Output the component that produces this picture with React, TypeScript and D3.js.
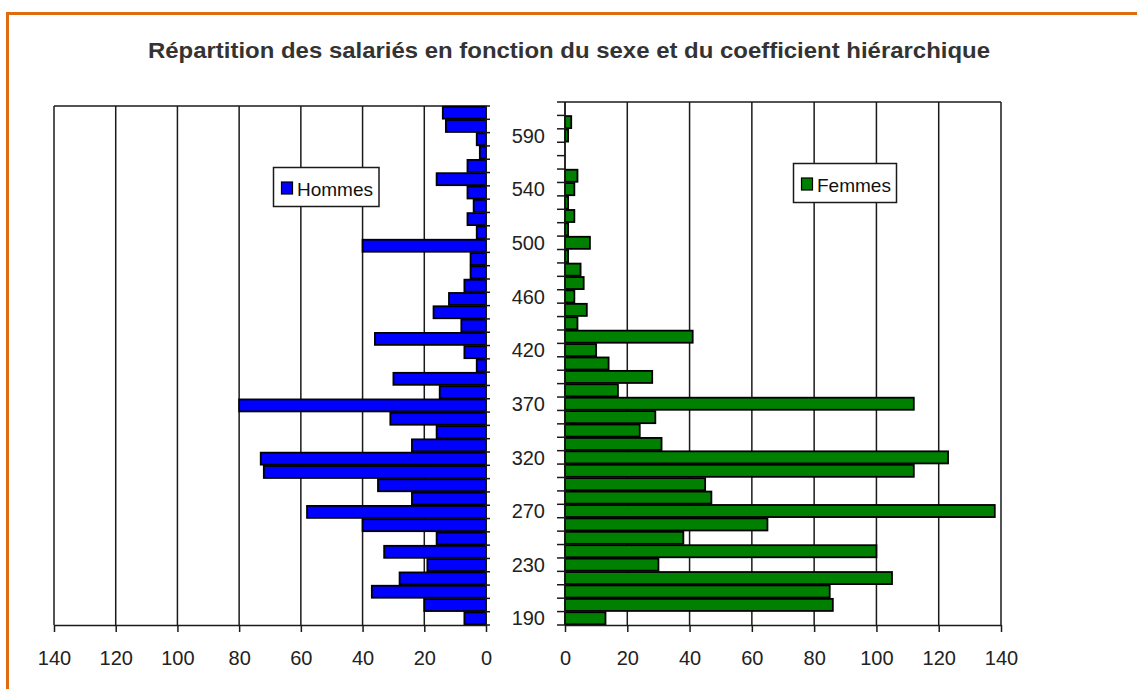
import React, { useEffect, useRef } from "react";
import * as d3 from "d3";

// coefficients hiérarchiques (du bas vers le haut)
const coefficients = [
  190, 200, 210, 220, 230, 240, 250, 260, 270, 280, 290, 305, 320, 330, 340, 355,
  370, 380, 390, 405, 420, 430, 440, 450, 460, 470, 480, 490, 500, 510, 520, 530,
  540, 550, 560, 575, 590, 600, 610,
];
const hommes = [
  7, 20, 37, 28, 19, 33, 16, 40, 58, 24, 35, 72, 73, 24, 16, 31,
  80, 15, 30, 3, 7, 36, 8, 17, 12, 7, 5, 5, 40, 3, 6, 4,
  6, 16, 6, 2, 3, 13, 14,
];
const femmes = [
  13, 86, 85, 105, 30, 100, 38, 65, 138, 47, 45, 112, 123, 31, 24, 29,
  112, 17, 28, 14, 10, 41, 4, 7, 3, 6, 5, 1, 8, 1, 3, 1,
  3, 4, 0, 0, 1, 2, 0,
];
const valueTicks = [0, 20, 40, 60, 80, 100, 120, 140];
const shownCoefficients = [190, 230, 270, 320, 370, 420, 460, 500, 540, 590];

const FONT = "'Liberation Sans', Arial, sans-serif";
const LINE = "#1a1a1a";

export default function App() {
  const ref = useRef<SVGSVGElement>(null);

  useEffect(() => {
    const svg = d3.select(ref.current);
    svg.selectAll("*").remove();

    const bottom = 625;

    // cadre orange
    svg.append("rect")
      .attr("x", 7.5).attr("y", 13.5)
      .attr("width", 1300).attr("height", 900)
      .attr("fill", "none")
      .attr("stroke", "#de6d12")
      .attr("stroke-width", 3);

    svg.append("text")
      .attr("x", 569).attr("y", 58)
      .attr("text-anchor", "middle")
      .attr("textLength", 842)
      .attr("lengthAdjust", "spacingAndGlyphs")
      .style("font-family", FONT)
      .style("font-size", "22px")
      .style("font-weight", "bold")
      .attr("fill", "#333")
      .text("Répartition des salariés en fonction du sexe et du coefficient hiérarchique");

    const drawSide = (opts: {
      x: d3.ScaleLinear<number, number>;
      top: number;
      data: number[];
      color: string;
      catSide: "left" | "right";
    }) => {
      const { x, top, data, color, catSide } = opts;
      const y = d3.scaleBand<number>()
        .domain(coefficients)
        .range([bottom, top])
        .paddingInner(0.1)
        .paddingOuter(0.05);
      const yb = d3.scaleBand<number>()
        .domain(coefficients)
        .range([bottom, top])
        .padding(0);

      const g = svg.append("g");
      const [x0, x1] = d3.extent(x.range()) as [number, number];

      // grille verticale
      g.append("g")
        .selectAll("line")
        .data(valueTicks)
        .enter().append("line")
        .attr("x1", (d) => x(d)).attr("x2", (d) => x(d))
        .attr("y1", top).attr("y2", bottom)
        .attr("stroke", LINE)
        .attr("stroke-width", 1.5);

      // ligne du haut
      g.append("line")
        .attr("x1", x0).attr("x2", x1)
        .attr("y1", top).attr("y2", top)
        .attr("stroke", LINE)
        .attr("stroke-width", 1.5);

      // barres
      g.append("g")
        .selectAll("rect")
        .data(coefficients.map((c, i) => ({ c, v: data[i] })).filter((d) => d.v > 0))
        .enter().append("rect")
        .attr("x", (d) => Math.min(x(0), x(d.v)))
        .attr("y", (d) => y(d.c) as number)
        .attr("width", (d) => Math.abs(x(d.v) - x(0)))
        .attr("height", y.bandwidth())
        .attr("fill", color)
        .attr("stroke", "#000")
        .attr("stroke-width", 1.8);

      // axe des catégories
      const ax = x(0);
      const tickLen = catSide === "left" ? -8 : 4;
      const bounds = [...coefficients.map((c) => yb(c) as number), bottom];
      g.append("line")
        .attr("x1", ax).attr("x2", ax)
        .attr("y1", top).attr("y2", bottom)
        .attr("stroke", LINE)
        .attr("stroke-width", 1.5);
      g.append("g")
        .selectAll("line")
        .data(bounds)
        .enter().append("line")
        .attr("x1", ax).attr("x2", ax + tickLen)
        .attr("y1", (d) => d).attr("y2", (d) => d)
        .attr("stroke", LINE)
        .attr("stroke-width", 1.5);

      if (catSide === "left") {
        g.append("g")
          .selectAll("text")
          .data(shownCoefficients)
          .enter().append("text")
          .attr("x", 545)
          .attr("y", (d) => (y(d) as number) + y.bandwidth() / 2)
          .attr("dy", "0.36em")
          .attr("text-anchor", "end")
          .style("font-family", FONT)
          .style("font-size", "20px")
          .attr("fill", "#222")
          .text((d) => d);
      }

      // axe des valeurs
      const xAxis = d3.axisBottom(x)
        .tickValues(valueTicks)
        .tickSize(7)
        .tickSizeOuter(0)
        .tickPadding(19)
        .tickFormat(d3.format("d"));
      const axg = g.append("g")
        .attr("transform", `translate(0,${bottom})`)
        .call(xAxis);
      axg.select(".domain").attr("stroke", LINE).attr("stroke-width", 1.5);
      axg.selectAll(".tick line").attr("stroke", LINE).attr("stroke-width", 1.5);
      axg.selectAll(".tick text")
        .style("font-family", FONT)
        .style("font-size", "20px")
        .attr("fill", "#222");
    };

    const xLeft = d3.scaleLinear().domain([0, 140]).range([486, 54]);
    const xRight = d3.scaleLinear().domain([0, 140]).range([565, 1001]);

    drawSide({ x: xLeft, top: 106, data: hommes, color: "#0000ff", catSide: "right" });
    drawSide({ x: xRight, top: 102, data: femmes, color: "#008000", catSide: "left" });

    // légendes
    const legend = (lx: number, ly: number, w: number, color: string, label: string) => {
      const lg = svg.append("g").attr("transform", `translate(${lx},${ly})`);
      lg.append("rect")
        .attr("width", w).attr("height", 39)
        .attr("fill", "#fff")
        .attr("stroke", LINE)
        .attr("stroke-width", 1.5);
      lg.append("rect")
        .attr("x", 8).attr("y", 14.5)
        .attr("width", 11).attr("height", 12)
        .attr("fill", color)
        .attr("stroke", "#000")
        .attr("stroke-width", 1.2);
      lg.append("text")
        .attr("x", 23.5).attr("y", 28.5)
        .style("font-family", FONT)
        .style("font-size", "19px")
        .attr("fill", "#111")
        .text(label);
    };
    legend(273.5, 167.5, 105.5, "#0000ff", "Hommes");
    legend(793.5, 163.5, 103, "#008000", "Femmes");
  }, []);

  return (
    <svg
      ref={ref}
      width={1137}
      height={689}
      style={{ position: "absolute", left: 0, top: 0, background: "#fff" }}
    />
  );
}
